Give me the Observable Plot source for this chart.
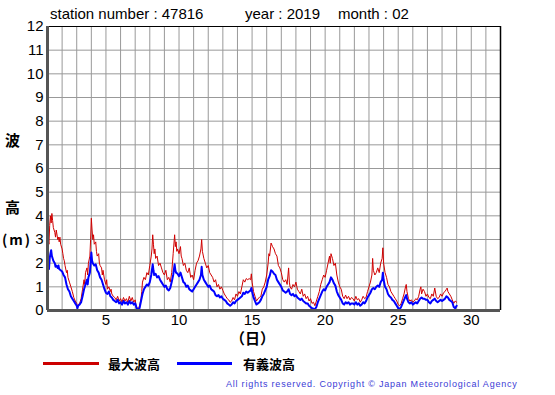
<!DOCTYPE html>
<html>
<head>
<meta charset="utf-8">
<script src="https://cdn.jsdelivr.net/npm/d3@7"></script>
<script src="https://cdn.jsdelivr.net/npm/@observablehq/plot@0.6"></script>
<style>
  body { margin: 0; background: #fff; }
  #wrap { position: relative; width: 555px; height: 395px; font-family: "Liberation Sans", Arial, sans-serif; }
  #wrap svg { position: absolute; left: 0; top: 0; }
  .t { position: absolute; white-space: nowrap; color: #000; }
  .title { font-size: 15px; top: 5px; }
  .jp { font-family: "Noto Sans CJK JP", sans-serif; font-weight: bold; font-size: 15px; }
  .leg { font-family: "Noto Sans CJK JP", sans-serif; font-weight: bold; font-size: 13px; top: 354px; }
  .line { position: absolute; height: 3px; top: 362px; }
  .copy { font-size: 9px; letter-spacing: 0.78px; color: #3b3bd6; top: 379px; left: 226px; }
</style>
</head>
<body>
<div id="wrap"></div>
<script>
// 最大波高 (maximum wave height) — day of month, metres
const maxDays = [1.0,1.05,1.1,1.15,1.2,1.25,1.3,1.35,1.4,1.5,1.55,1.6,1.7,1.75,1.8,1.85,1.9,2.0,2.05,2.1,2.15,2.2,2.3,2.35,2.4,2.5,2.6,2.7,2.8,2.9,3.0,3.05,3.1,3.2,3.3,3.4,3.5,3.55,3.6,3.7,3.75,3.8,3.9,3.95,4.0,4.05,4.1,4.15,4.2,4.3,4.35,4.4,4.5,4.55,4.6,4.7,4.75,4.8,4.9,5.0,5.05,5.1,5.2,5.3,5.35,5.4,5.5,5.6,5.7,5.8,5.9,6.0,6.1,6.2,6.3,6.4,6.5,6.6,6.7,6.8,6.9,7.0,7.05,7.1,7.2,7.3,7.4,7.45,7.5,7.6,7.7,7.8,7.9,8.0,8.1,8.15,8.2,8.25,8.3,8.35,8.4,8.5,8.6,8.7,8.8,8.9,9.0,9.1,9.2,9.3,9.4,9.5,9.55,9.6,9.7,9.75,9.8,9.85,9.9,10.0,10.1,10.15,10.2,10.3,10.4,10.5,10.6,10.7,10.8,10.9,11.0,11.1,11.2,11.3,11.4,11.5,11.55,11.6,11.7,11.8,11.9,12.0,12.1,12.2,12.3,12.4,12.5,12.6,12.7,12.8,12.9,13.0,13.1,13.2,13.3,13.4,13.5,13.6,13.7,13.8,13.9,14.0,14.1,14.2,14.3,14.4,14.5,14.6,14.7,14.8,14.9,14.95,15.0,15.1,15.2,15.3,15.4,15.5,15.6,15.7,15.8,15.9,16.0,16.1,16.15,16.2,16.3,16.4,16.5,16.6,16.7,16.8,16.9,17.0,17.1,17.2,17.3,17.4,17.5,17.55,17.6,17.7,17.8,17.9,18.0,18.1,18.2,18.3,18.4,18.5,18.6,18.7,18.8,18.9,19.0,19.1,19.2,19.3,19.4,19.5,19.6,19.7,19.8,19.9,20.0,20.1,20.2,20.3,20.35,20.4,20.5,20.6,20.7,20.8,20.9,21.0,21.1,21.2,21.3,21.4,21.5,21.6,21.7,21.8,21.9,22.0,22.1,22.2,22.3,22.4,22.5,22.6,22.7,22.8,22.9,23.0,23.1,23.2,23.25,23.3,23.4,23.5,23.6,23.7,23.8,23.9,23.95,24.0,24.1,24.2,24.3,24.4,24.5,24.6,24.7,24.8,24.9,25.0,25.1,25.2,25.3,25.4,25.5,25.55,25.6,25.7,25.8,25.9,26.0,26.1,26.2,26.3,26.4,26.5,26.55,26.6,26.7,26.8,26.9,27.0,27.1,27.2,27.3,27.4,27.5,27.6,27.7,27.8,27.9,28.0,28.1,28.2,28.3,28.35,28.4,28.5,28.6,28.7,28.8,28.9,29.0];
const maxWave = [2.9,3.0,2.8,3.6,4.0,3.7,4.1,3.8,3.5,3.3,3.1,3.4,3.0,3.1,2.9,3.1,2.8,2.6,2.4,2.2,2.1,1.9,1.6,1.7,1.4,1.2,1.0,0.8,0.55,0.4,0.3,0.15,0.25,0.3,0.5,0.9,1.3,1.1,1.6,1.8,1.5,2.0,2.3,3.0,3.9,3.4,3.0,3.2,2.8,2.9,2.5,2.3,2.4,2.0,1.9,1.8,1.5,1.7,1.3,1.1,1.3,0.9,1.0,0.8,0.9,0.7,0.6,0.55,0.45,0.6,0.4,0.5,0.35,0.55,0.4,0.5,0.35,0.6,0.4,0.55,0.35,0.45,0.25,0.15,0.05,0.2,0.5,0.8,1.2,1.4,1.3,1.6,1.5,1.9,2.3,2.6,3.2,2.8,2.4,2.6,2.2,2.3,1.9,2.0,1.8,1.6,1.5,1.7,1.3,1.4,1.2,1.6,2.0,2.4,3.2,2.7,2.9,2.5,2.6,2.4,2.7,2.3,2.2,1.9,2.0,1.7,1.6,1.8,1.4,1.5,1.3,1.7,2.0,2.1,2.3,2.6,3.0,2.5,2.2,2.0,1.8,1.9,1.6,1.5,1.4,1.2,1.3,1.0,1.1,0.9,1.0,0.85,0.7,0.6,0.5,0.45,0.35,0.4,0.55,0.45,0.7,0.6,0.8,0.7,1.0,1.3,1.2,1.35,1.3,1.35,1.3,1.55,1.2,0.8,0.6,0.4,0.5,0.55,0.6,0.9,1.0,1.2,1.5,2.0,2.4,2.3,2.85,2.7,2.6,2.4,2.3,1.9,1.8,1.6,1.3,1.2,1.3,1.1,1.8,1.2,1.0,0.9,1.1,1.0,1.2,0.9,0.8,0.7,0.9,0.6,0.7,0.5,0.6,0.4,0.5,0.3,0.35,0.2,0.4,0.6,0.8,1.1,1.3,1.5,1.4,1.7,2.0,2.3,2.0,2.4,2.2,1.9,2.0,1.5,1.2,1.0,0.9,0.6,0.5,0.65,0.5,0.6,0.45,0.55,0.5,0.4,0.6,0.45,0.5,0.35,0.45,0.6,0.5,0.55,0.8,1.0,1.2,1.5,2.2,1.7,1.5,1.6,1.8,1.6,2.0,2.2,2.65,2.0,1.6,1.4,1.1,1.0,0.8,0.7,0.6,0.5,0.4,0.25,0.2,0.3,0.5,0.7,1.0,1.1,0.8,0.5,0.4,0.45,0.35,0.4,0.5,0.45,0.6,0.9,1.0,0.7,0.9,0.8,0.6,0.7,0.55,0.5,0.7,0.6,0.95,0.6,0.5,0.55,0.7,0.6,0.75,0.8,0.9,0.95,0.8,0.7,0.6,0.45,0.3,0.4,0.35];

// 有義波高 (significant wave height) — day of month, metres
const sigDays = [1.0,1.05,1.1,1.15,1.2,1.25,1.3,1.4,1.5,1.55,1.6,1.7,1.75,1.8,1.9,2.0,2.1,2.2,2.3,2.4,2.5,2.6,2.7,2.8,2.9,3.0,3.05,3.1,3.2,3.3,3.4,3.5,3.6,3.7,3.75,3.8,3.9,3.95,4.0,4.05,4.1,4.2,4.3,4.4,4.5,4.6,4.7,4.8,4.9,5.0,5.1,5.2,5.3,5.4,5.5,5.6,5.7,5.8,5.9,6.0,6.1,6.2,6.3,6.4,6.5,6.6,6.7,6.8,6.9,7.0,7.1,7.2,7.3,7.4,7.5,7.6,7.7,7.8,7.9,8.0,8.1,8.2,8.25,8.3,8.4,8.5,8.6,8.7,8.8,8.9,9.0,9.1,9.2,9.3,9.4,9.5,9.6,9.7,9.75,9.8,9.9,10.0,10.1,10.2,10.3,10.4,10.5,10.6,10.7,10.8,10.9,11.0,11.1,11.2,11.3,11.4,11.5,11.55,11.6,11.7,11.8,11.9,12.0,12.1,12.2,12.3,12.4,12.5,12.6,12.7,12.8,12.9,13.0,13.1,13.2,13.3,13.4,13.5,13.6,13.7,13.8,13.9,14.0,14.1,14.2,14.3,14.4,14.5,14.6,14.7,14.8,14.9,14.95,15.0,15.1,15.2,15.3,15.4,15.5,15.6,15.7,15.8,15.9,16.0,16.1,16.2,16.3,16.4,16.5,16.6,16.7,16.8,16.9,17.0,17.1,17.2,17.3,17.4,17.5,17.6,17.7,17.8,17.9,18.0,18.1,18.2,18.3,18.4,18.5,18.6,18.7,18.8,18.9,19.0,19.1,19.2,19.3,19.4,19.5,19.6,19.7,19.8,19.9,20.0,20.1,20.2,20.3,20.4,20.5,20.6,20.7,20.8,20.9,21.0,21.1,21.2,21.3,21.4,21.5,21.6,21.7,21.8,21.9,22.0,22.1,22.2,22.3,22.4,22.5,22.6,22.7,22.8,22.9,23.0,23.1,23.2,23.3,23.4,23.5,23.6,23.7,23.8,23.9,23.95,24.0,24.1,24.2,24.3,24.4,24.5,24.6,24.7,24.8,24.9,25.0,25.1,25.2,25.3,25.4,25.5,25.55,25.6,25.7,25.8,25.9,26.0,26.1,26.2,26.3,26.4,26.5,26.6,26.7,26.8,26.9,27.0,27.1,27.2,27.3,27.4,27.5,27.6,27.7,27.8,27.9,28.0,28.1,28.2,28.3,28.4,28.5,28.6,28.7,28.8,28.9,29.0];
const sigWave = [1.8,1.9,1.75,2.2,2.4,2.55,2.3,2.1,2.0,1.85,1.9,1.8,1.9,1.75,1.7,1.65,1.5,1.4,1.1,0.9,0.8,0.6,0.5,0.4,0.3,0.2,0.1,0.2,0.25,0.35,0.6,0.9,1.1,1.3,1.1,1.4,1.6,2.0,2.45,2.1,2.0,1.9,1.95,1.7,1.6,1.4,1.3,1.1,0.9,0.75,0.7,0.8,0.6,0.55,0.45,0.4,0.35,0.45,0.3,0.35,0.25,0.4,0.3,0.35,0.25,0.4,0.3,0.35,0.25,0.3,0.1,0.02,0.1,0.4,0.7,0.9,1.0,1.1,1.05,1.2,1.5,1.95,1.7,1.5,1.55,1.4,1.45,1.3,1.2,1.1,1.0,1.05,0.9,0.85,0.95,1.2,1.5,1.95,1.7,1.6,1.55,1.45,1.6,1.4,1.2,1.15,1.0,1.05,0.9,0.85,0.8,0.9,1.0,1.1,1.2,1.3,1.5,1.85,1.5,1.3,1.2,1.1,1.0,1.05,0.9,0.85,0.8,0.65,0.6,0.65,0.55,0.6,0.5,0.45,0.4,0.3,0.25,0.2,0.25,0.35,0.3,0.4,0.45,0.5,0.55,0.6,0.75,0.7,0.8,0.75,0.8,0.85,0.95,0.8,0.55,0.4,0.25,0.3,0.35,0.45,0.6,0.7,0.85,1.0,1.3,1.45,1.7,1.65,1.55,1.5,1.3,1.2,1.1,1.0,0.85,0.8,0.75,0.8,0.9,0.7,0.65,0.7,0.6,0.65,0.55,0.5,0.45,0.5,0.4,0.35,0.3,0.3,0.2,0.15,0.1,0.08,0.05,0.15,0.35,0.5,0.65,0.8,0.9,0.85,1.0,1.1,1.2,1.4,1.3,1.15,1.05,0.8,0.65,0.55,0.45,0.3,0.25,0.35,0.3,0.35,0.25,0.3,0.3,0.25,0.35,0.25,0.3,0.2,0.25,0.35,0.3,0.4,0.55,0.65,0.75,0.9,0.95,0.9,1.0,1.05,1.0,1.2,1.3,1.6,1.3,1.0,0.9,0.7,0.6,0.55,0.45,0.4,0.3,0.2,0.1,0.05,0.15,0.3,0.45,0.6,0.65,0.5,0.35,0.3,0.35,0.25,0.3,0.35,0.3,0.4,0.5,0.55,0.5,0.5,0.45,0.45,0.35,0.3,0.4,0.45,0.5,0.4,0.35,0.4,0.45,0.4,0.45,0.5,0.6,0.55,0.45,0.4,0.35,0.15,0.1,0.2];

const gridDays = d3.range(1, 33);
const gridHeights = d3.range(0, 13);
const xTickValues = [5, 10, 15, 20, 25, 30];
const yTickValues = d3.range(0, 13);

const maxData = maxDays.map((d, i) => ({day: d, h: maxWave[i]}));
const sigData = sigDays.map((d, i) => ({day: d, h: sigWave[i]}));

const chart = Plot.plot({
  width: 555,
  height: 395,
  marginLeft: 47,
  marginRight: 55,
  marginTop: 26,
  marginBottom: 85,
  style: {fontFamily: '"Liberation Sans", Arial, sans-serif', fontSize: "15px", color: "#000", background: "transparent"},
  x: {domain: [1, 32]},
  y: {domain: [0, 12]},
  marks: [
    Plot.ruleX(gridDays, {stroke: "#999", strokeWidth: 1}),
    Plot.ruleY(gridHeights, {stroke: "#999", strokeWidth: 1}),
    Plot.ruleY([12], {stroke: "#000", strokeWidth: 1}),
    Plot.ruleX([32], {stroke: "#000", strokeWidth: 1.5}),
    Plot.line(maxData, {x: "day", y: "h", stroke: "#d00000", strokeWidth: 1}),
    Plot.line(sigData, {x: "day", y: "h", stroke: "#0000ff", strokeWidth: 2}),
    Plot.ruleX([1], {stroke: "#555", strokeWidth: 3}),
    Plot.ruleY([0], {stroke: "#555", strokeWidth: 3}),
    Plot.axisX({ticks: xTickValues, tickSize: 0, tickPadding: 4, label: null, fontSize: 15}),
    Plot.axisY({ticks: yTickValues, tickSize: 0, tickPadding: 4, label: null, fontSize: 15})
  ]
});

const wrap = document.getElementById("wrap");
wrap.appendChild(chart);
wrap.insertAdjacentHTML("beforeend", `
  <div class="t title" style="left:50px">station number : 47816</div>
  <div class="t title" style="left:245px">year : 2019</div>
  <div class="t title" style="left:338px">month : 02</div>
  <div class="t jp" style="left:5px; top:129px">波</div>
  <div class="t jp" style="left:5px; top:196px">高</div>
  <div class="t jp" style="left:2px; top:229px; font-size:14px; letter-spacing:2px">(m)</div>
  <div class="t jp" style="left:230px; top:327px">（日）</div>
  <div class="line" style="left:43px; width:56px; background:#cc0000"></div>
  <div class="t leg" style="left:108px">最大波高</div>
  <div class="line" style="left:177px; width:55px; background:#0000ff"></div>
  <div class="t leg" style="left:243px">有義波高</div>
  <div class="t copy">All rights reserved. Copyright © Japan Meteorological Agency</div>
`);
</script>
</body>
</html>
